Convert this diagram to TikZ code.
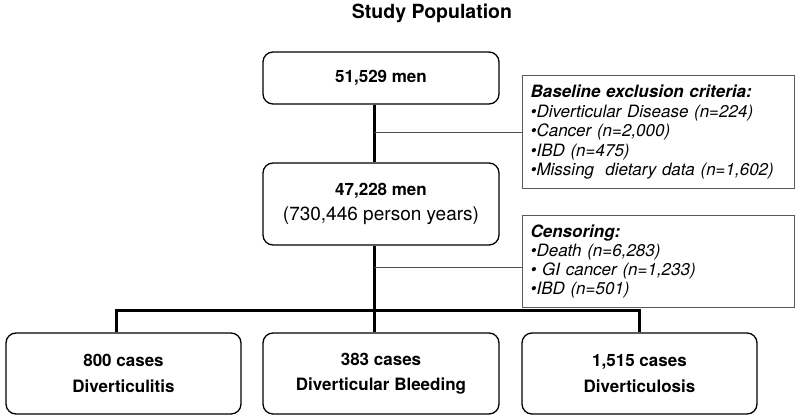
\documentclass[tikz,border=0pt]{standalone}
\usepackage{fontspec}
\setmainfont{TeX Gyre Heros}

\begin{document}
\begin{tikzpicture}[x=1pt, y=-1pt, font=\fontsize{17}{25.5}\selectfont,
    box/.style={draw, rounded corners=10pt, line width=1.3pt, align=center, inner sep=0pt},
    listbox/.style={draw=black!65, line width=1.2pt, align=left, anchor=north west,
        inner xsep=8pt, inner ysep=0pt, text width=256pt},
    trunk/.style={line width=3pt},
    side/.style={draw=black!70, line width=1pt}]
    \useasboundingbox (0,0) rectangle (800,420);

    \node[font=\fontsize{19.5}{22}\selectfont\bfseries, anchor=base] (title) at (432,19) {Study Population};

    % cohort
    \node[box, minimum width=236pt, minimum height=52pt] (men1) at (381,78) {\textbf{51,529 men}};
    \node[box, minimum width=236pt, minimum height=82pt] (men2) at (381,204) {\textbf{47,228 men}\\{\fontsize{19}{25.5}\selectfont (730,446 person years)}};

    % side lists
    \node[listbox, minimum height=113pt, font=\fontsize{17}{19.5}\selectfont] (excl) at (522,75) {%
        \textbf{\textit{Baseline exclusion criteria:}}\\
        \textit{•Diverticular Disease (n=224)}\\
        \textit{•Cancer (n=2,000)}\\
        \textit{•IBD (n=475)}\\
        \textit{•Missing\ \ dietary data (n=1,602)}};
    \node[listbox, minimum height=92pt, font=\fontsize{17}{19}\selectfont] (cens) at (522,215) {%
        \textbf{\textit{Censoring:}}\\
        \textit{•Death (n=6,283)}\\
        \textit{• GI cancer (n=1,233)}\\
        \textit{•IBD (n=501)}};

    % outcomes
    \node[box, minimum width=235pt, minimum height=81pt] (itis) at (123.5,373.5) {\textbf{800 cases}\\\textbf{Diverticulitis}};
    \node[box, minimum width=236pt, minimum height=81pt] (bleed) at (381,373.5) {\textbf{383 cases}\\\textbf{Diverticular Bleeding}};
    \node[box, minimum width=235pt, minimum height=81pt] (osis) at (639.5,373.5) {\textbf{1,515 cases}\\\textbf{Diverticulosis}};

    \coordinate (j1) at (374,132);
    \coordinate (j2) at (374,267);

    \draw[trunk] ([xshift=-7pt]men1.south) -- ([xshift=-7pt]men2.north);
    \draw[trunk] ([xshift=-7pt]men2.south) -- ([xshift=-7pt]bleed.north);
    \draw[trunk] ([xshift=-7.5pt]itis.north) -- ++(0,-22) -| (osis.north);

    \draw[side] (j1) -- (j1 -| excl.west);
    \draw[side] (j2) -- (j2 -| cens.west);
\end{tikzpicture}
\end{document}
